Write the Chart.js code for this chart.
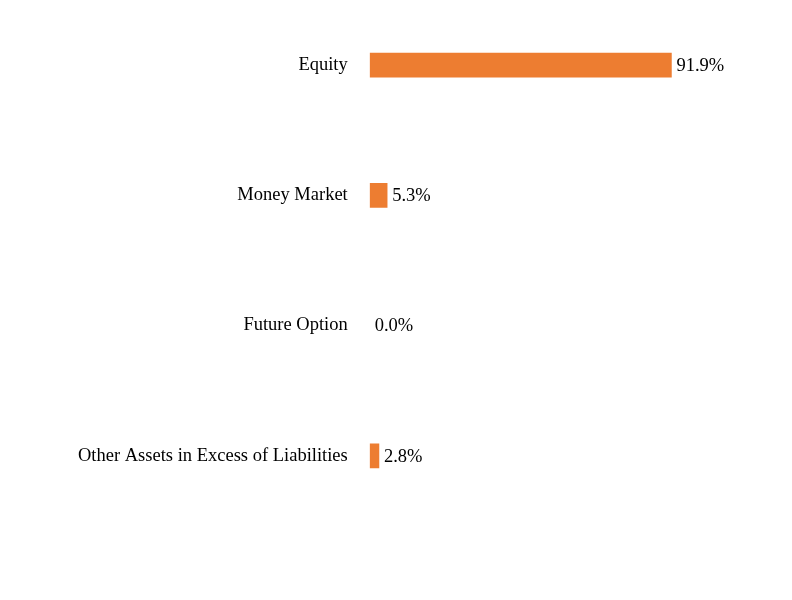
<!DOCTYPE html>
<html lang="en">
<head>
  <meta charset="UTF-8" />
  <title>Asset Allocation</title>
  <script src="https://cdn.jsdelivr.net/npm/chart.js"></script>
  <style>
    html, body { margin: 0; padding: 0; background: #fff; }
    #wrap { width: 792px; height: 600px; }
  </style>
</head>
<body>
  <div id="wrap"><canvas id="allocChart" width="792" height="600"></canvas></div>

  <script>
    // data
    const categories = ['Equity', 'Money Market', 'Future Option', 'Other Assets in Excess of Liabilities'];
    const weights = [91.9, 5.3, 0.0, 2.8];

    const FONT = '"Liberation Serif", "Times New Roman", serif';

    // draws the percent value just right of each bar
    const valueLabels = {
      id: 'valueLabels',
      afterDatasetsDraw(chart) {
        const ctx = chart.ctx;
        const meta = chart.getDatasetMeta(0);
        ctx.save();
        ctx.font = '18.5px ' + FONT;
        ctx.fillStyle = '#000';
        ctx.textAlign = 'left';
        ctx.textBaseline = 'middle';
        meta.data.forEach((bar, i) => {
          ctx.fillText(weights[i].toFixed(1) + '%', bar.x + 5, bar.y + 1);
        });
        ctx.restore();
      }
    };

    new Chart(document.getElementById('allocChart'), {
      type: 'bar',
      data: {
        labels: categories,
        datasets: [{
          data: weights,
          // zero-value bar is not drawn in the original
          backgroundColor: weights.map(v => v === 0 ? 'rgba(0,0,0,0)' : '#ED7D31'),
          barThickness: 24
        }]
      },
      options: {
        indexAxis: 'y',
        responsive: false,
        animation: false,
        layout: { padding: { top: -2, right: 94, bottom: 79, left: 64 } },
        plugins: {
          legend: { display: false },
          tooltip: { enabled: false }
        },
        scales: {
          x: {
            display: false,
            min: 0,
            max: 100
          },
          y: {
            grid: { display: false },
            border: { display: false },
            afterFit(scale) {
              // no extra room above/below the category band
              scale.paddingTop = 0;
              scale.paddingBottom = 0;
            },
            ticks: {
              color: '#000',
              padding: 14,
              font: { family: FONT, size: 18.5 }
            }
          }
        }
      },
      plugins: [valueLabels]
    });
  </script>
</body>
</html>
